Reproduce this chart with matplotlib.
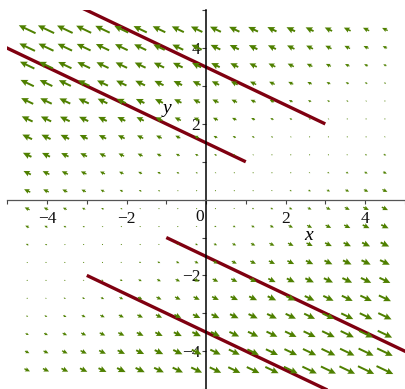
import numpy as np
import matplotlib
matplotlib.use("Agg")
import matplotlib.pyplot as plt

# Linear system  x' = a*x + b*y,  y' = c*x + d*y
a, b = 2.0, -4.0
c, d = -1.0, 2.0

# Initial conditions of the plotted solution curves
init_x = [1.0, 3.0, -1.0, -3.0]
init_y = [1.0, 2.0, -1.0, -2.0]

# Direction-field grid and view window
field_min, field_max, field_n = -4.5, 4.5, 20
x_min, x_max = -5.0, 5.0
y_min, y_max = -5.0, 5.0

x_ticks = [-4, -2, 2, 4]
y_ticks = [-4, -2, 2, 4]

arrow_color = "#4f8000"
curve_color = "#7f0010"
serif = ["Liberation Serif", "DejaVu Serif"]

fig = plt.figure(figsize=(4.06, 3.89), dpi=100)
ax = fig.add_axes([0.018, 0.0, 0.979, 0.9735])
ax.set_xlim(x_min, x_max)
ax.set_ylim(y_min, y_max)

# Direction field
g = np.linspace(field_min, field_max, field_n)
X, Y = np.meshgrid(g, g)
U = a * X + b * Y
V = c * X + d * Y
ax.quiver(X, Y, U, V, angles="xy", scale_units="xy", scale=64,
          pivot="middle", color=arrow_color, width=0.005,
          headwidth=3.4, headlength=3.6, headaxislength=3.2,
          minshaft=1.3, minlength=0.6, zorder=3)

# Solution curves from the exact solution X(t) = P exp(Lt) P^-1 X0
A = np.array([[a, b], [c, d]])
lam, P = np.linalg.eig(A)
Pinv = np.linalg.inv(P)
t = np.linspace(0.0, 1.0, 600)
for x0, y0 in zip(init_x, init_y):
    coef = Pinv @ np.array([x0, y0])
    sol = P @ (coef[:, None] * np.exp(np.outer(lam, t)))
    ax.plot(sol[0].real, sol[1].real, color=curve_color, lw=2.4,
            solid_capstyle="butt", zorder=2)

# Axes through the origin
for side in ("top", "right"):
    ax.spines[side].set_visible(False)
ax.spines["left"].set_position("zero")
ax.spines["bottom"].set_position("zero")
ax.spines["left"].set_color("black")
ax.spines["left"].set_linewidth(1.1)
ax.spines["bottom"].set_color("#555555")
ax.spines["bottom"].set_linewidth(0.9)

ax.set_xticks(x_ticks)
ax.set_yticks(y_ticks)
ax.set_xticks(np.arange(-5, 6), minor=True)
ax.set_yticks(np.arange(-5, 6), minor=True)
ax.set_xticklabels([f"\u2212{abs(v)}" if v < 0 else str(v) for v in x_ticks],
                   family=serif, fontsize=12.5)
ax.set_yticklabels([f"\u2212{abs(v)}" if v < 0 else str(v) for v in y_ticks],
                   family=serif, fontsize=12.5)
ax.tick_params(which="both", direction="out", length=3, width=0.8,
               color="#444444", labelcolor="#111111")
ax.tick_params(axis="x", pad=5)
ax.tick_params(axis="y", pad=1)

# Origin label sits left of the vertical axis, level with the x labels
ax.text(-0.06, -0.46, "0", family=serif, fontsize=12.5, color="#111111",
        ha="right", va="center")

# Axis names
ax.text(2.57, -0.95, "x", family=serif, style="italic", fontsize=14,
        ha="center", va="center")
ax.text(-0.98, 2.42, "y", family=serif, style="italic", fontsize=14,
        ha="center", va="center")

fig.savefig("out.png", dpi=100)
